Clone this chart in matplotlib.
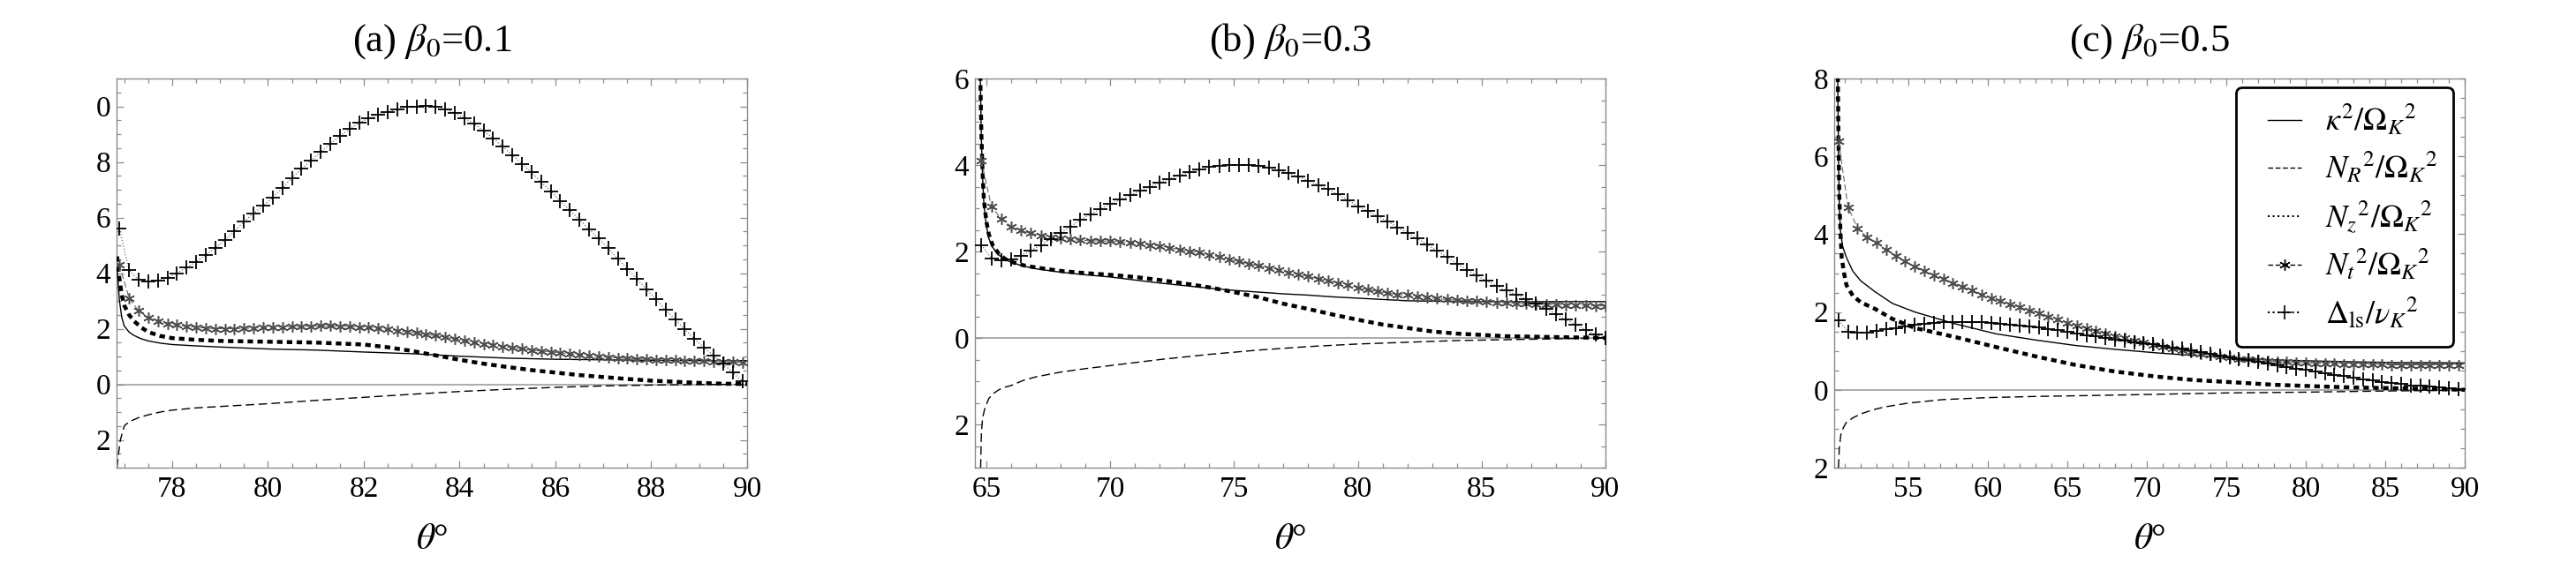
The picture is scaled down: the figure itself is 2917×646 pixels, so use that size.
import numpy as np
import matplotlib
matplotlib.use('Agg')
import matplotlib.pyplot as plt
from matplotlib.lines import Line2D
from matplotlib.legend_handler import HandlerLine2D
from matplotlib.ticker import MultipleLocator, FixedLocator, FixedFormatter

plt.rcParams['font.family'] = ['Liberation Serif', 'DejaVu Serif']
plt.rcParams['mathtext.fontset'] = 'stix'

# ---------------- panel (a) beta0 = 0.1 ----------------
theta_k_a = [76.85, 76.9, 76.95, 77.0, 77.1, 77.2, 77.35, 77.5, 77.75, 78,
             78.5, 79, 80, 81, 82, 83, 84, 85, 86, 87, 88, 89, 90]
kappa_a = [4.2, 3.0, 2.4, 2.1, 1.88, 1.76, 1.64, 1.56, 1.48, 1.43,
           1.38, 1.34, 1.27, 1.23, 1.16, 1.1, 1.01, 0.94, 0.9, 0.88, 0.86, 0.85, 0.85]

theta_r_a = [76.85, 76.88, 76.92, 77.0, 77.1, 77.3, 77.5, 77.75, 78, 78.5,
             79, 80, 81, 82, 83, 84, 85, 86, 87, 88, 89, 90]
nr_a = [-3.0, -2.5, -2.0, -1.5, -1.35, -1.2, -1.1, -1.0, -0.93, -0.85,
        -0.8, -0.7, -0.58, -0.47, -0.36, -0.26, -0.18, -0.11, -0.06, -0.03, -0.01, 0.0]

theta_z_a = [76.85, 76.9, 76.95, 77.0, 77.1, 77.2, 77.35, 77.5, 77.75, 78,
             78.5, 79, 80, 81, 82, 82.5, 83, 83.5, 84, 84.5,
             85, 85.5, 86, 86.5, 87, 87.5, 88, 88.5, 89, 89.5, 90]
nz_a = [4.6, 3.8, 3.2, 2.84, 2.5, 2.28, 2.05, 1.88, 1.74, 1.66,
        1.6, 1.56, 1.53, 1.5, 1.43, 1.33, 1.2, 1.04, 0.88, 0.74,
        0.62, 0.51, 0.42, 0.33, 0.26, 0.19, 0.13, 0.09, 0.05, 0.02, 0.01]

# sampling points of the marked curves (every 0.2 deg)
theta_m_a = np.linspace(76.9, 89.9, 66)
nt_a = [4.3, 3.1, 2.64, 2.4, 2.27, 2.19, 2.14, 2.09, 2.05, 2.02,
        2.0, 2.0, 2.0, 2.01, 2.02, 2.04, 2.05, 2.06, 2.07, 2.08,
        2.09, 2.1, 2.1, 2.09, 2.08, 2.06, 2.04, 2.01, 1.97, 1.93,
        1.89, 1.85, 1.8, 1.75, 1.69, 1.63, 1.57, 1.52, 1.46, 1.41,
        1.36, 1.31, 1.27, 1.23, 1.19, 1.16, 1.13, 1.09, 1.06, 1.03,
        1.0, 0.97, 0.95, 0.93, 0.91, 0.9, 0.88, 0.87, 0.86, 0.85,
        0.84, 0.83, 0.82, 0.81, 0.8, 0.79]
delta_a = [5.6, 4.1, 3.75, 3.69, 3.72, 3.83, 4.0, 4.2, 4.41, 4.65,
           4.9, 5.2, 5.5, 5.85, 6.15, 6.42, 6.72, 7.07, 7.42, 7.75,
           8.05, 8.36, 8.65, 8.93, 9.18, 9.4, 9.57, 9.7, 9.8, 9.9,
           9.97, 10.0, 10.02, 9.98, 9.9, 9.75, 9.58, 9.37, 9.12, 8.85,
           8.55, 8.25, 7.93, 7.62, 7.28, 6.95, 6.6, 6.26, 5.92, 5.58,
           5.24, 4.89, 4.52, 4.15, 3.78, 3.41, 3.05, 2.68, 2.32, 1.98,
           1.63, 1.33, 1.03, 0.75, 0.42, 0.12]

# ---------------- panel (b) beta0 = 0.3 ----------------
theta_k_b = [64.75, 64.8, 64.85, 64.9, 65.0, 65.1, 65.25, 65.5, 65.75, 66,
             66.5, 67, 68, 69, 70, 71, 72, 73, 74, 75,
             76, 77, 78, 79, 80, 81, 82, 83, 84, 86, 88, 90]
kappa_b = [6.3, 4.6, 3.7, 3.1, 2.6, 2.3, 2.1, 1.92, 1.82, 1.75,
           1.66, 1.6, 1.52, 1.46, 1.41, 1.34, 1.27, 1.21, 1.15, 1.1,
           1.06, 1.02, 0.99, 0.95, 0.92, 0.89, 0.86, 0.85, 0.84, 0.84, 0.84, 0.84]

theta_r_b = [64.77, 64.8, 64.85, 64.93, 65.1, 65.3, 65.5, 65.75, 66, 66.5,
             67, 68, 69, 70, 71, 72, 73, 74, 75, 76,
             77, 78, 79, 80, 82, 84, 86, 88, 90]
nr_b = [-3.0, -2.2, -1.85, -1.65, -1.4, -1.28, -1.2, -1.14, -1.1, -0.98,
        -0.9, -0.79, -0.71, -0.64, -0.57, -0.5, -0.44, -0.38, -0.33, -0.28,
        -0.24, -0.2, -0.17, -0.14, -0.1, -0.06, -0.04, -0.02, 0.0]

theta_z_b = [64.75, 64.8, 64.85, 64.9, 65.0, 65.1, 65.25, 65.5, 65.75, 66,
             66.5, 67, 68, 69, 70, 71, 72, 73, 74, 75,
             76, 77, 78, 79, 80, 81, 82, 83, 84, 85,
             86, 87, 88, 89, 90]
nz_b = [6.3, 4.7, 3.8, 3.2, 2.7, 2.4, 2.15, 1.95, 1.83, 1.76,
        1.68, 1.63, 1.55, 1.5, 1.46, 1.41, 1.34, 1.26, 1.17, 1.06,
        0.94, 0.79, 0.67, 0.54, 0.42, 0.31, 0.23, 0.15, 0.1, 0.07,
        0.04, 0.03, 0.02, 0.01, 0.0]

theta_m_b = np.linspace(64.8, 90.0, 64)   # every 0.4 deg
nt_b = [4.1, 3.05, 2.75, 2.58, 2.48, 2.42, 2.37, 2.33, 2.3, 2.28,
        2.26, 2.25, 2.24, 2.24, 2.22, 2.2, 2.18, 2.15, 2.13, 2.09,
        2.05, 2.01, 1.97, 1.92, 1.87, 1.82, 1.77, 1.72, 1.67, 1.62,
        1.57, 1.52, 1.47, 1.42, 1.37, 1.32, 1.27, 1.22, 1.17, 1.12,
        1.08, 1.04, 1.01, 0.99, 0.96, 0.93, 0.91, 0.89, 0.87, 0.86,
        0.85, 0.83, 0.82, 0.81, 0.8, 0.79, 0.78, 0.78, 0.77, 0.76,
        0.76, 0.75, 0.74, 0.74]
delta_b = [2.15, 1.84, 1.8, 1.82, 1.9, 2.02, 2.15, 2.29, 2.43, 2.58,
           2.73, 2.86, 2.98, 3.1, 3.2, 3.3, 3.4, 3.5, 3.6, 3.68,
           3.76, 3.83, 3.89, 3.95, 3.98, 4.0, 4.0, 3.99, 3.97, 3.93,
           3.88, 3.81, 3.73, 3.64, 3.54, 3.44, 3.32, 3.19, 3.05, 2.93,
           2.82, 2.7, 2.56, 2.43, 2.3, 2.16, 2.02, 1.87, 1.72, 1.58,
           1.45, 1.32, 1.21, 1.1, 1.0, 0.9, 0.8, 0.68, 0.55, 0.43,
           0.31, 0.19, 0.08, 0.0]

# ---------------- panel (c) beta0 = 0.5 ----------------
theta_k_c = [50.55, 50.6, 50.65, 50.72, 50.85, 51.1, 51.5, 52.0, 52.9, 54,
             55.4, 57.9, 60.5, 63, 65.5, 68, 70.6, 73, 75.6, 78,
             80.7, 83, 85.8, 88, 90]
kappa_c = [8.2, 6.0, 4.8, 4.1, 3.7, 3.4, 3.05, 2.8, 2.52, 2.22,
           2.0, 1.7, 1.44, 1.28, 1.14, 1.04, 0.95, 0.88, 0.82, 0.77,
           0.74, 0.72, 0.7, 0.7, 0.69]

theta_r_c = [50.6, 50.65, 50.75, 50.9, 51.07, 51.5, 52.0, 52.7, 53.5, 55,
             57.2, 60, 63, 66, 70, 75, 80, 85, 90]
nr_c = [-2.0, -1.5, -1.15, -0.98, -0.85, -0.72, -0.62, -0.52, -0.44, -0.34,
        -0.25, -0.2, -0.17, -0.15, -0.12, -0.08, -0.06, -0.03, -0.01]

theta_z_c = [50.55, 50.6, 50.65, 50.72, 50.8, 50.95, 51.1, 51.5, 52.0, 52.9,
             54, 55.4, 57.9, 60.5, 63, 65.5, 68, 70.6, 73, 75.6,
             78, 80.7, 83, 85.8, 88, 90]
nz_c = [8.3, 6.5, 5.0, 4.1, 3.4, 3.0, 2.69, 2.42, 2.25, 2.08,
        1.82, 1.59, 1.36, 1.1, 0.86, 0.64, 0.47, 0.34, 0.25, 0.19,
        0.13, 0.09, 0.06, 0.04, 0.02, 0.0]

theta_m_c = np.linspace(50.6, 89.6, 66)   # every 0.6 deg
nt_c = [6.4, 4.7, 4.15, 3.92, 3.78, 3.6, 3.45, 3.3, 3.17, 3.06,
        2.95, 2.85, 2.75, 2.65, 2.55, 2.45, 2.36, 2.29, 2.2, 2.12,
        2.04, 1.96, 1.88, 1.8, 1.72, 1.64, 1.58, 1.51, 1.45, 1.39,
        1.33, 1.27, 1.21, 1.15, 1.1, 1.05, 1.01, 0.97, 0.93, 0.9,
        0.86, 0.83, 0.8, 0.78, 0.76, 0.74, 0.72, 0.71, 0.7, 0.69,
        0.68, 0.67, 0.67, 0.66, 0.66, 0.65, 0.65, 0.65, 0.64, 0.64,
        0.64, 0.64, 0.64, 0.64, 0.64, 0.64]
delta_c = [1.78, 1.5, 1.47, 1.48, 1.51, 1.55, 1.59, 1.63, 1.67, 1.7,
           1.72, 1.74, 1.75, 1.75, 1.75, 1.74, 1.72, 1.7, 1.68, 1.66,
           1.63, 1.6, 1.57, 1.53, 1.49, 1.45, 1.41, 1.37, 1.33, 1.29,
           1.26, 1.23, 1.2, 1.17, 1.13, 1.09, 1.05, 1.01, 0.97, 0.93,
           0.89, 0.84, 0.8, 0.76, 0.72, 0.68, 0.64, 0.59, 0.55, 0.51,
           0.47, 0.43, 0.39, 0.35, 0.31, 0.27, 0.24, 0.21, 0.18, 0.15,
           0.12, 0.1, 0.08, 0.06, 0.04, 0.02]

panels = [
    dict(title=r'(a) $\beta_0$=0.1', xlim=(76.84, 90), ylim=(-3, 11),
         xticks=[78, 80, 82, 84, 86, 88, 90], xminor=0.5,
         yticks=[10, 8, 6, 4, 2, 0, -2], ylabels=['0', '8', '6', '4', '2', '0', '2'],
         k=(theta_k_a, kappa_a), r=(theta_r_a, nr_a), z=(theta_z_a, nz_a),
         m=(theta_m_a, nt_a, delta_a)),
    dict(title=r'(b) $\beta_0$=0.3', xlim=(64.54, 90), ylim=(-3, 6),
         xticks=[65, 70, 75, 80, 85, 90], xminor=1,
         yticks=[6, 4, 2, 0, -2], ylabels=['6', '4', '2', '0', '2'],
         k=(theta_k_b, kappa_b), r=(theta_r_b, nr_b), z=(theta_z_b, nz_b),
         m=(theta_m_b, nt_b, delta_b)),
    dict(title=r'(c) $\beta_0$=0.5', xlim=(50.33, 90), ylim=(-2, 8),
         xticks=[55, 60, 65, 70, 75, 80, 85, 90], xminor=1,
         yticks=[8, 6, 4, 2, 0, -2], ylabels=['8', '6', '4', '2', '0', '2'],
         k=(theta_k_c, kappa_c), r=(theta_r_c, nr_c), z=(theta_z_c, nz_c),
         m=(theta_m_c, nt_c, delta_c)),
]

fig = plt.figure(figsize=(29.17, 6.46), dpi=100)
lefts = [132, 1104, 2077]
frame_gray = '0.55'

for left, p in zip(lefts, panels):
    ax = fig.add_axes([left / 2917, 116 / 646, 714 / 2917, 441 / 646])
    ax.axhline(0, color='0.65', lw=1.3, zorder=1)
    ax.plot(*p['r'], color='black', lw=1.0, ls=(0, (7, 3.5)), zorder=2)
    ax.plot(*p['k'], color='black', lw=1.0, zorder=3)
    ax.plot(*p['z'], color='black', lw=3.2, ls=(0, (1.4, 1.1)),
            dash_capstyle='butt', zorder=4)
    th, nt, dl = p['m']
    ax.plot(th, nt, color='0.4', lw=0.8, ls=(0, (6, 3)), marker=(6, 2, 0),
            ms=9, mew=1.1, mec='0.3', zorder=5)
    ax.plot(th, dl, color='0.45', lw=0.9, ls=':', marker='+',
            ms=11, mew=1.3, mec='black', zorder=6)

    ax.set_xlim(*p['xlim'])
    ax.set_ylim(*p['ylim'])
    ax.xaxis.set_major_locator(FixedLocator(p['xticks']))
    ax.xaxis.set_minor_locator(MultipleLocator(p['xminor']))
    ax.yaxis.set_major_locator(FixedLocator(p['yticks']))
    ax.yaxis.set_major_formatter(FixedFormatter(p['ylabels']))
    ax.yaxis.set_minor_locator(MultipleLocator(0.5))
    ax.tick_params(which='both', direction='in', top=True, right=True,
                   color=frame_gray, width=0.9, labelsize=24)
    ax.tick_params(which='major', length=6)
    ax.tick_params(which='minor', length=3.5)
    ax.tick_params(axis='x', pad=7)
    ax.tick_params(axis='y', pad=5)
    for s in ax.spines.values():
        s.set_color(frame_gray)
        s.set_linewidth(1.0)
    # title placed explicitly above the frame
    ax.text(0.5, 1 + 42 / 441, p['title'], transform=ax.transAxes,
            ha='center', va='center', fontsize=32)
    ax.set_xlabel(r'$\theta$°', fontsize=30, labelpad=16)

# legend drawn in the last panel
handles = [
    Line2D([], [], color='black', lw=1.0),
    Line2D([], [], color='black', lw=1.0, ls=(0, (4, 2))),
    Line2D([], [], color='black', lw=1.5, ls=':'),
    Line2D([], [], color='black', lw=1.0, ls=(0, (4, 2)), marker=(6, 2, 0), ms=9),
    Line2D([], [], color='black', lw=1.5, ls=':', marker='+', ms=11, mew=1.2),
]
labels = [r'$\kappa^2/\Omega_K{}^2$', r'$N_R{}^2/\Omega_K{}^2$',
          r'$N_z{}^2/\Omega_K{}^2$', r'$N_t{}^2/\Omega_K{}^2$',
          r'$\Delta_{\rm ls}/\nu_K{}^2$']
leg = ax.legend(handles, labels, loc='upper right', bbox_to_anchor=(0.982, 0.977),
                borderaxespad=0, fontsize=26, fancybox=True, framealpha=1,
                edgecolor='black', handlelength=1.55, handletextpad=0.75,
                labelspacing=0.42, borderpad=0.5,
                handler_map={Line2D: HandlerLine2D(xpad=0.5)})
leg.get_frame().set_linewidth(2)

fig.savefig('out.png', dpi=100)
